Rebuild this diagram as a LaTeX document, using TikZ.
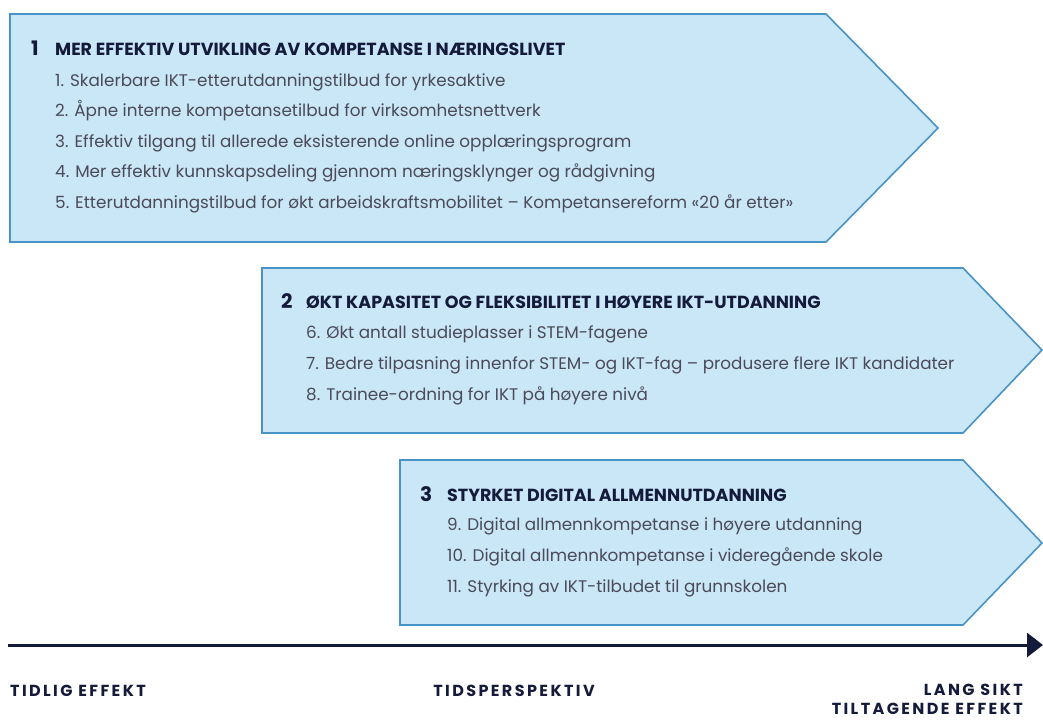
\documentclass[tikz,border=0pt]{standalone}
\usepackage{fontspec}
\setmainfont{Poppins}
\newfontfamily\spacedfont[LetterSpace=15]{Poppins}
\usetikzlibrary{arrows.meta}
\tikzset{>=latex}
\definecolor{boxfill}{HTML}{CAE7F8}
\definecolor{boxline}{HTML}{4A93C6}
\definecolor{navy}{HTML}{141B3A}
\definecolor{itemgray}{HTML}{4A4A58}

\begin{document}
\begin{tikzpicture}[x=1pt,y=-1pt]
    \tikzstyle{pil}=[fill=boxfill,draw=boxline,line width=1.6pt,line join=miter];
    \tikzstyle{nummer}=[anchor=base west,inner sep=0pt,text=navy,font=\bfseries\fontsize{20}{20}\selectfont];
    \tikzstyle{head}=[anchor=base west,inner sep=0pt,text=navy,font=\bfseries\fontsize{17.5}{17.5}\selectfont];
    \tikzstyle{item}=[anchor=base west,inner sep=0pt,text=itemgray,font=\fontsize{16.8}{16.8}\selectfont];
    \tikzstyle{tid}=[inner sep=0pt,text=navy,font=\spacedfont\bfseries\fontsize{16}{16}\selectfont];
    \useasboundingbox (0,0) rectangle (1043,720);
    % pil 1
    \draw[pil](10,14)--(826,14)--(938,128)--(826,242)--(10,242)--cycle;
    \node[nummer] (n1) at (31,55) {1};
    \node[head] (h1) at (55,55) {MER EFFEKTIV UTVIKLING AV KOMPETANSE I NÆRINGSLIVET};
    \node[item] (i1) at (55,86) {1. Skalerbare IKT-etterutdanningstilbud for yrkesaktive};
    \node[item] (i2) at (55,116.5) {2. Åpne interne kompetansetilbud for virksomhetsnettverk};
    \node[item] (i3) at (55,147) {3. Effektiv tilgang til allerede eksisterende online opplæringsprogram};
    \node[item] (i4) at (55,177.5) {4. Mer effektiv kunnskapsdeling gjennom næringsklynger og rådgivning};
    \node[item] (i5) at (55,208) {5. Etterutdanningstilbud for økt arbeidskraftsmobilitet – Kompetansereform «20 år etter»};
    % pil 2
    \draw[pil](262,268)--(963,268)--(1042,350)--(963,433)--(262,433)--cycle;
    \node[nummer] (n2) at (281,308) {2};
    \node[head] (h2) at (306,308) {ØKT KAPASITET OG FLEKSIBILITET I HØYERE IKT-UTDANNING};
    \node[item] (i6) at (306,338) {6. Økt antall studieplasser i STEM-fagene};
    \node[item] (i7) at (306,369) {7. Bedre tilpasning innenfor STEM- og IKT-fag – produsere flere IKT kandidater};
    \node[item] (i8) at (306,400) {8. Trainee-ordning for IKT på høyere nivå};
    % pil 3
    \draw[pil](400,460)--(963,460)--(1042,543)--(963,625)--(400,625)--cycle;
    \node[nummer] (n3) at (420,501) {3};
    \node[head] (h3) at (447,501) {STYRKET DIGITAL ALLMENNUTDANNING};
    \node[item] (i9) at (447,530) {9. Digital allmennkompetanse i høyere utdanning};
    \node[item] (i10) at (447,561) {10. Digital allmennkompetanse i videregående skole};
    \node[item] (i11) at (447,592) {11. Styrking av IKT-tilbudet til grunnskolen};
    % tidslinje
    \coordinate (t0) at (8,645);
    \coordinate (t1) at (1043,645);
    \draw[navy,line width=3pt,-{Triangle[length=16pt,width=24pt]}](t0)--(t1);
    \node[tid,anchor=base west] (tidlig) at (10,696) {TIDLIG EFFEKT};
    \node[tid,anchor=base] (midt) at (514,696) {TIDSPERSPEKTIV};
    \node[tid,anchor=base east] (lang) at (1023,695) {LANG SIKT};
    \node[tid,anchor=base east] (tiltag) at (1023,714) {TILTAGENDE EFFEKT};
\end{tikzpicture}
\end{document}
